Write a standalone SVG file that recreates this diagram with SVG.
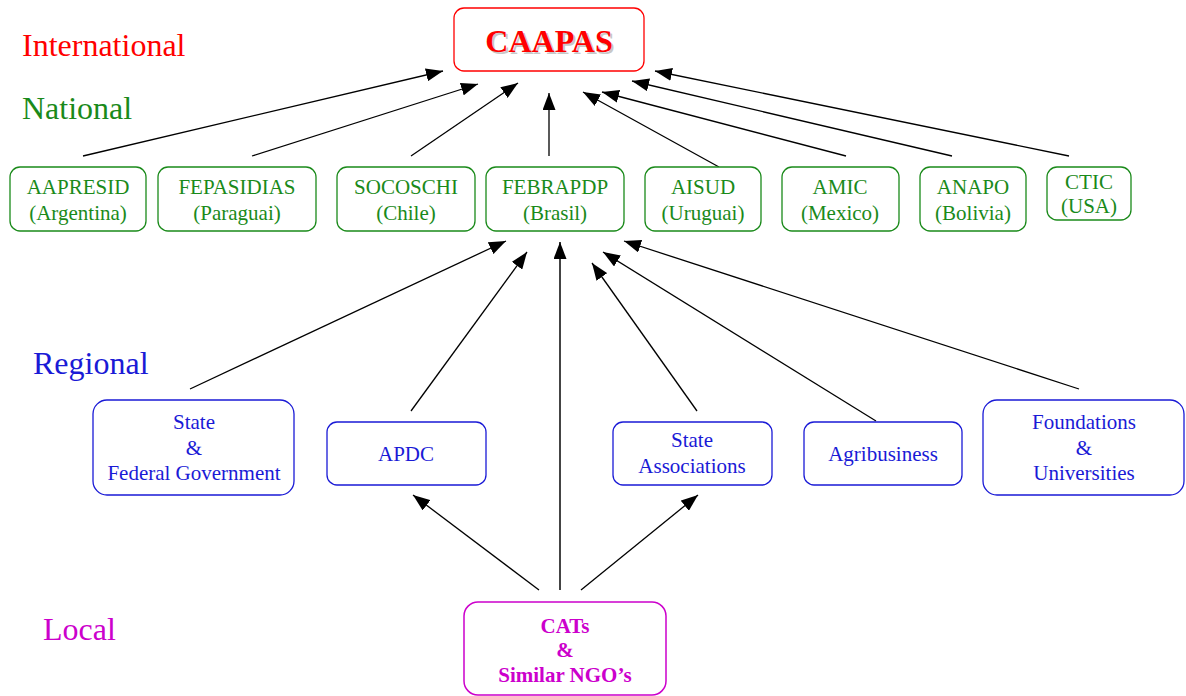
<svg xmlns="http://www.w3.org/2000/svg" width="1186" height="696" viewBox="0 0 1186 696">
<defs>
<marker id="ah" viewBox="0 0 17 13" refX="17" refY="6.5" markerWidth="17" markerHeight="13" orient="auto" markerUnits="userSpaceOnUse"><path d="M0,0 L17,6.5 L0,13 z" fill="#000"/></marker>
<style>
text{font-family:"Liberation Serif","Times New Roman",serif;text-anchor:middle;}
.lvl{font-size:32px;text-anchor:start;}
.nat rect{fill:#fff;stroke:#1a8a1a;stroke-width:1.3;}
.nat text{fill:#1a8a1a;font-size:21px;}
.reg rect{fill:#fff;stroke:#1a1ad6;stroke-width:1.3;}
.reg text{fill:#1a1ad6;font-size:21px;}
.con line{stroke:#000;stroke-width:1.3;marker-end:url(#ah);}
</style>
</defs>
<rect width="1186" height="696" fill="#fff"/>
<g id="levels">
<text class="lvl" x="22" y="56" fill="#ff0000">International</text>
<text class="lvl" x="22" y="119" fill="#1a8a1a">National</text>
<text class="lvl" x="33" y="374" fill="#1a1ad6">Regional</text>
<text class="lvl" x="43" y="640" fill="#cc00cc">Local</text>
</g>
<g class="con" id="connectors">
<line x1="83" y1="156" x2="443" y2="71"/>
<line x1="252" y1="156" x2="478" y2="84"/>
<line x1="411" y1="156" x2="518" y2="83"/>
<line x1="549" y1="156" x2="549" y2="93"/>
<line x1="719" y1="167" x2="583" y2="92"/>
<line x1="846" y1="156" x2="602" y2="92"/>
<line x1="952" y1="156" x2="632" y2="81"/>
<line x1="1069" y1="156" x2="655" y2="71"/>
<line x1="190" y1="389" x2="506" y2="241"/>
<line x1="411" y1="411" x2="527" y2="252"/>
<line x1="560" y1="590" x2="560" y2="242" style="stroke:#444;stroke-width:2"/>
<line x1="697" y1="411" x2="592" y2="263"/>
<line x1="876" y1="421" x2="603" y2="252"/>
<line x1="1079" y1="389" x2="624" y2="241"/>
<line x1="539" y1="590" x2="413" y2="495"/>
<line x1="581" y1="590" x2="698" y2="495"/>
</g>
<g id="caapas">
<rect x="454" y="8" width="190" height="63" rx="10" fill="#fff" stroke="#ff0000" stroke-width="1.3"/>
<text x="551" y="54" font-size="32" font-weight="bold" fill="#c8c8c8">CAAPAS</text>
<text x="549" y="52" font-size="32" font-weight="bold" fill="#ff0000">CAAPAS</text>
</g>
<g id="aapresid" class="nat"><rect x="10" y="167" width="136" height="64" rx="10"/><text x="78" y="194">AAPRESID</text><text x="78" y="220">(Argentina)</text></g>
<g id="fepasidias" class="nat"><rect x="158" y="167" width="158" height="64" rx="10"/><text x="237" y="194">FEPASIDIAS</text><text x="237" y="220">(Paraguai)</text></g>
<g id="socoschi" class="nat"><rect x="337" y="167" width="138" height="64" rx="10"/><text x="406" y="194">SOCOSCHI</text><text x="406" y="220">(Chile)</text></g>
<g id="febrapdp" class="nat"><rect x="486" y="167" width="138" height="64" rx="10"/><text x="555" y="194">FEBRAPDP</text><text x="555" y="220">(Brasil)</text></g>
<g id="aisud" class="nat"><rect x="645" y="167" width="116" height="64" rx="10"/><text x="703" y="194">AISUD</text><text x="703" y="220">(Uruguai)</text></g>
<g id="amic" class="nat"><rect x="782" y="167" width="117" height="64" rx="10"/><text x="840" y="194">AMIC</text><text x="840" y="220">(Mexico)</text></g>
<g id="anapo" class="nat"><rect x="920" y="167" width="106" height="64" rx="10"/><text x="973" y="194">ANAPO</text><text x="973" y="220">(Bolivia)</text></g>
<g id="ctic" class="nat"><rect x="1047" y="167" width="84" height="53" rx="10"/><text x="1089" y="189">CTIC</text><text x="1089" y="213">(USA)</text></g>
<g id="government" class="reg"><rect x="93" y="400" width="201" height="95" rx="14"/><text x="194" y="429">State</text><text x="194" y="455">&amp;</text><text x="194" y="480">Federal Government</text></g>
<g id="apdc" class="reg"><rect x="327" y="422" width="159" height="63" rx="10"/><text x="406" y="461">APDC</text></g>
<g id="stateassoc" class="reg"><rect x="613" y="422" width="159" height="63" rx="10"/><text x="692" y="447">State</text><text x="692" y="473">Associations</text></g>
<g id="agribusiness" class="reg"><rect x="804" y="422" width="158" height="63" rx="10"/><text x="883" y="461">Agribusiness</text></g>
<g id="foundations" class="reg"><rect x="983" y="400" width="201" height="95" rx="14"/><text x="1084" y="429">Foundations</text><text x="1084" y="455">&amp;</text><text x="1084" y="480">Universities</text></g>
<g id="cats">
<rect x="464" y="602" width="202" height="93" rx="14" fill="#fff" stroke="#cc00cc" stroke-width="1.5"/>
<g font-size="21" font-weight="bold" fill="#cc00cc">
<text x="565" y="633">CATs</text><text x="565" y="657">&amp;</text><text x="565" y="682">Similar NGO’s</text>
</g>
</g>
</svg>
